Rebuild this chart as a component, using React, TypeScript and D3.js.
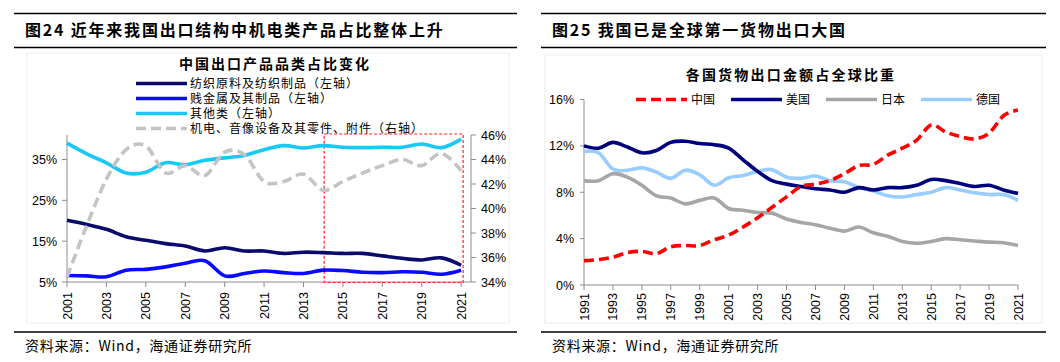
import React from 'react';
import * as d3 from 'd3';

// ---- left chart: 中国出口产品品类占比变化 ----
const leftYears = [2001, 2002, 2003, 2004, 2005, 2006, 2007, 2008, 2009, 2010, 2011, 2012, 2013, 2014, 2015, 2016, 2017, 2018, 2019, 2020, 2021];
const leftTickYears = [2001, 2003, 2005, 2007, 2009, 2011, 2013, 2015, 2017, 2019, 2021];
const leftTicks = [5, 15, 25, 35];
const rightTicks = [34, 36, 38, 40, 42, 44, 46];

const textile = [20.1, 19.1, 17.9, 16.1, 15.2, 14.4, 13.8, 12.6, 13.4, 12.6, 12.6, 12.0, 12.3, 12.2, 12.0, 12.0, 11.4, 10.8, 10.4, 10.9, 9.1];
const baseMetal = [6.6, 6.5, 6.3, 7.9, 8.1, 8.7, 9.6, 10.2, 6.5, 7.1, 7.7, 7.3, 7.1, 7.9, 7.8, 7.4, 7.3, 7.5, 7.4, 6.9, 7.9];
const others = [39.0, 36.4, 34.2, 31.7, 31.9, 34.2, 33.7, 34.8, 35.4, 36.0, 37.4, 38.4, 37.8, 38.4, 38.0, 37.9, 38.0, 38.0, 38.8, 37.9, 40.0];
const machinery = [34.4, 38.6, 42.4, 44.8, 45.1, 42.9, 43.5, 42.7, 44.6, 44.4, 42.2, 42.2, 42.8, 41.5, 42.2, 42.9, 43.5, 44.0, 43.5, 44.5, 43.1];

const leftSeries = [
  { name: '纺织原料及纺织制品（左轴）', values: textile, color: '#0b0b6e', dash: '', axis: 'l' },
  { name: '贱金属及其制品（左轴）', values: baseMetal, color: '#0a0aff', dash: '', axis: 'l' },
  { name: '其他类（左轴）', values: others, color: '#19c8f5', dash: '', axis: 'l' },
  { name: '机电、音像设备及其零件、附件（右轴）', values: machinery, color: '#c4c4c4', dash: '10 5', axis: 'r' },
];

// ---- right chart: 各国货物出口金额占全球比重 ----
const worldYears = [1991, 1992, 1993, 1994, 1995, 1996, 1997, 1998, 1999, 2000, 2001, 2002, 2003, 2004, 2005, 2006, 2007, 2008, 2009, 2010, 2011, 2012, 2013, 2014, 2015, 2016, 2017, 2018, 2019, 2020, 2021];
const worldTickYears = [1991, 1993, 1995, 1997, 1999, 2001, 2003, 2005, 2007, 2009, 2011, 2013, 2015, 2017, 2019, 2021];
const worldTicks = [0, 4, 8, 12, 16];

const china = [2.1, 2.2, 2.4, 2.8, 2.9, 2.7, 3.3, 3.4, 3.4, 3.9, 4.3, 5.0, 5.8, 6.7, 7.6, 8.5, 8.7, 9.0, 9.6, 10.3, 10.4, 11.2, 11.8, 12.5, 13.8, 13.2, 12.8, 12.6, 13.1, 14.6, 15.1];
const usa = [12.0, 11.8, 12.3, 11.9, 11.4, 11.6, 12.3, 12.4, 12.2, 12.1, 11.8, 10.8, 9.8, 9.0, 8.7, 8.5, 8.3, 8.2, 8.0, 8.4, 8.2, 8.4, 8.4, 8.6, 9.1, 9.0, 8.75, 8.5, 8.6, 8.2, 7.9];
const japan = [9.0, 9.0, 9.6, 9.3, 8.6, 7.7, 7.5, 7.0, 7.3, 7.5, 6.6, 6.45, 6.25, 6.2, 5.7, 5.4, 5.2, 4.9, 4.65, 5.0, 4.5, 4.2, 3.75, 3.6, 3.75, 4.0, 3.9, 3.8, 3.7, 3.65, 3.4];
const germany = [11.5, 11.4, 10.0, 9.9, 10.1, 9.75, 9.2, 9.9, 9.5, 8.6, 9.25, 9.45, 9.8, 9.95, 9.3, 9.2, 9.4, 9.0, 8.9, 8.4, 8.1, 7.7, 7.6, 7.8, 8.0, 8.4, 8.2, 7.95, 7.8, 7.8, 7.3];

const worldSeries = [
  { name: '中国', values: china, color: '#ff0000', dash: '10 5' },
  { name: '美国', values: usa, color: '#00007f', dash: '' },
  { name: '日本', values: japan, color: '#a6a6a6', dash: '' },
  { name: '德国', values: germany, color: '#99ccff', dash: '' },
];

const CJK = '"Noto Sans CJK SC", sans-serif';
const NUM = '"Liberation Sans", Arial, sans-serif';
const AXIS = '#8c8c8c';

function Header({ x0, x1, title }: { x0: number; x1: number; title: string }) {
  return (
    <g>
      <line x1={x0} x2={x1} y1={13.5} y2={13.5} stroke="#000" strokeWidth={1.3} />
      <text x={x0 + 11} y={36} fontFamily={CJK} fontWeight={700} fontSize={16} letterSpacing={1.8} fill="#000">{title}</text>
      <line x1={x0} x2={x1} y1={47.5} y2={47.5} stroke="#000" strokeWidth={1.3} />
      <line x1={x0} x2={x1} y1={332} y2={332} stroke="#000" strokeWidth={1.3} />
      <text x={x0 + 11} y={351} fontFamily={CJK} fontSize={14} letterSpacing={0.7} fill="#000">资料来源：Wind，海通证券研究所</text>
    </g>
  );
}

function LeftChart() {
  const x = d3.scaleLinear().domain([2001, 2021.5]).range([67, 471]);
  const yl = d3.scaleLinear().domain([5, 41]).range([282, 135]);
  const yr = d3.scaleLinear().domain([34, 46]).range([282, 135]);
  const curve = d3.curveCardinal.tension(0);
  const mk = (scale: d3.ScaleLinear<number, number>) =>
    d3.line<number>().x((_, i) => x(leftYears[i])).y(d => scale(d)).curve(curve);

  return (
    <g>
      <Header x0={14} x1={517} title="图24 近年来我国出口结构中机电类产品占比整体上升" />
      <rect x={27} y={53} width={482} height={270} fill="none" stroke="#ececec" />
      <text x={275} y={69} textAnchor="middle" fontFamily={CJK} fontWeight={700} fontSize={14} letterSpacing={2}>中国出口产品品类占比变化</text>
      {leftSeries.map((s, i) => {
        const ly = 83.5 + i * 15;
        return (
          <g key={s.name}>
            <line x1={136} x2={187} y1={ly} y2={ly} stroke={s.color} strokeWidth={3.5} strokeDasharray={s.dash || undefined} />
            <text x={190} y={ly + 4.5} fontFamily={CJK} fontSize={12} letterSpacing={1}>{s.name}</text>
          </g>
        );
      })}
      {/* axes */}
      <line x1={67} x2={67} y1={135} y2={282} stroke={AXIS} />
      <line x1={471} x2={471} y1={135} y2={282} stroke={AXIS} />
      <line x1={67} x2={471} y1={282} y2={282} stroke={AXIS} />
      {leftTicks.map(t => (
        <g key={t}>
          <line x1={62} x2={67} y1={yl(t)} y2={yl(t)} stroke={AXIS} />
          <text x={57} y={yl(t) + 4.5} textAnchor="end" fontFamily={NUM} fontSize={12.5}>{t}%</text>
        </g>
      ))}
      {rightTicks.map(t => (
        <g key={t}>
          <line x1={471} x2={476} y1={yr(t)} y2={yr(t)} stroke={AXIS} />
          <text x={481} y={yr(t) + 4.5} fontFamily={NUM} fontSize={12.5}>{t}%</text>
        </g>
      ))}
      {leftTickYears.map(t => (
        <g key={t}>
          <line x1={x(t)} x2={x(t)} y1={282} y2={287} stroke={AXIS} />
          <text transform={`translate(${x(t) + 4.5},292) rotate(-90)`} textAnchor="end" fontFamily={NUM} fontSize={12.5}>{t}</text>
        </g>
      ))}
      {/* highlight box */}
      <rect x={x(2014.05)} y={134} width={x(2021.1) - x(2014.05)} height={148.5} fill="none" stroke="#ff2020" strokeWidth={1.2} strokeDasharray="3 2" />
      {leftSeries.map(s => (
        <path key={s.name} d={mk(s.axis === 'l' ? yl : yr)(s.values) || ''} fill="none" stroke={s.color}
          strokeWidth={3.6} strokeDasharray={s.dash || undefined} strokeLinejoin="round" />
      ))}
    </g>
  );
}

function RightChart() {
  const x = d3.scaleLinear().domain([1991, 2021]).range([584, 1018]);
  const y = d3.scaleLinear().domain([0, 16]).range([285, 99.5]);
  const line = d3.line<number>().x((_, i) => x(worldYears[i])).y(d => y(d)).curve(d3.curveCardinal.tension(0));
  return (
    <g>
      <Header x0={541} x1={1046} title="图25 我国已是全球第一货物出口大国" />
      <rect x={545} y={55} width={497} height={268} fill="none" stroke="#ececec" />
      <text x={791} y={80} textAnchor="middle" fontFamily={CJK} fontWeight={700} fontSize={14} letterSpacing={2.2}>各国货物出口金额占全球比重</text>
      <line x1={584} x2={584} y1={99.5} y2={285} stroke={AXIS} />
      <line x1={584} x2={1018} y1={285} y2={285} stroke={AXIS} />
      {worldTicks.map(t => (
        <g key={t}>
          <line x1={580} x2={584} y1={y(t)} y2={y(t)} stroke={AXIS} />
          <text x={574} y={y(t) + 4.5} textAnchor="end" fontFamily={NUM} fontSize={12.5}>{t}%</text>
        </g>
      ))}
      {worldTickYears.map(t => (
        <g key={t}>
          <line x1={x(t)} x2={x(t)} y1={285} y2={290} stroke={AXIS} />
          <text transform={`translate(${x(t) + 4.5},293) rotate(-90)`} textAnchor="end" fontFamily={NUM} fontSize={12.5}>{t}</text>
        </g>
      ))}
      {worldSeries.map((s, i) => {
        const lx = 636 + i * 95;
        return (
          <g key={s.name}>
            <line x1={lx} x2={lx + 51} y1={99.5} y2={99.5} stroke={s.color} strokeWidth={3.5} strokeDasharray={s.dash || undefined} />
            <text x={lx + 55} y={104} fontFamily={CJK} fontSize={12}>{s.name}</text>
          </g>
        );
      })}
      {worldSeries.slice().reverse().map(s => (
        <path key={s.name} d={line(s.values) || ''} fill="none" stroke={s.color} strokeWidth={3.6}
          strokeDasharray={s.dash || undefined} strokeLinejoin="round" />
      ))}
    </g>
  );
}

export default function App() {
  return (
    <svg width={1060} height={362} style={{ position: 'absolute', left: 0, top: 0, background: '#fff' }}>
      <rect width={1060} height={362} fill="#fff" />
      <LeftChart />
      <RightChart />
    </svg>
  );
}
